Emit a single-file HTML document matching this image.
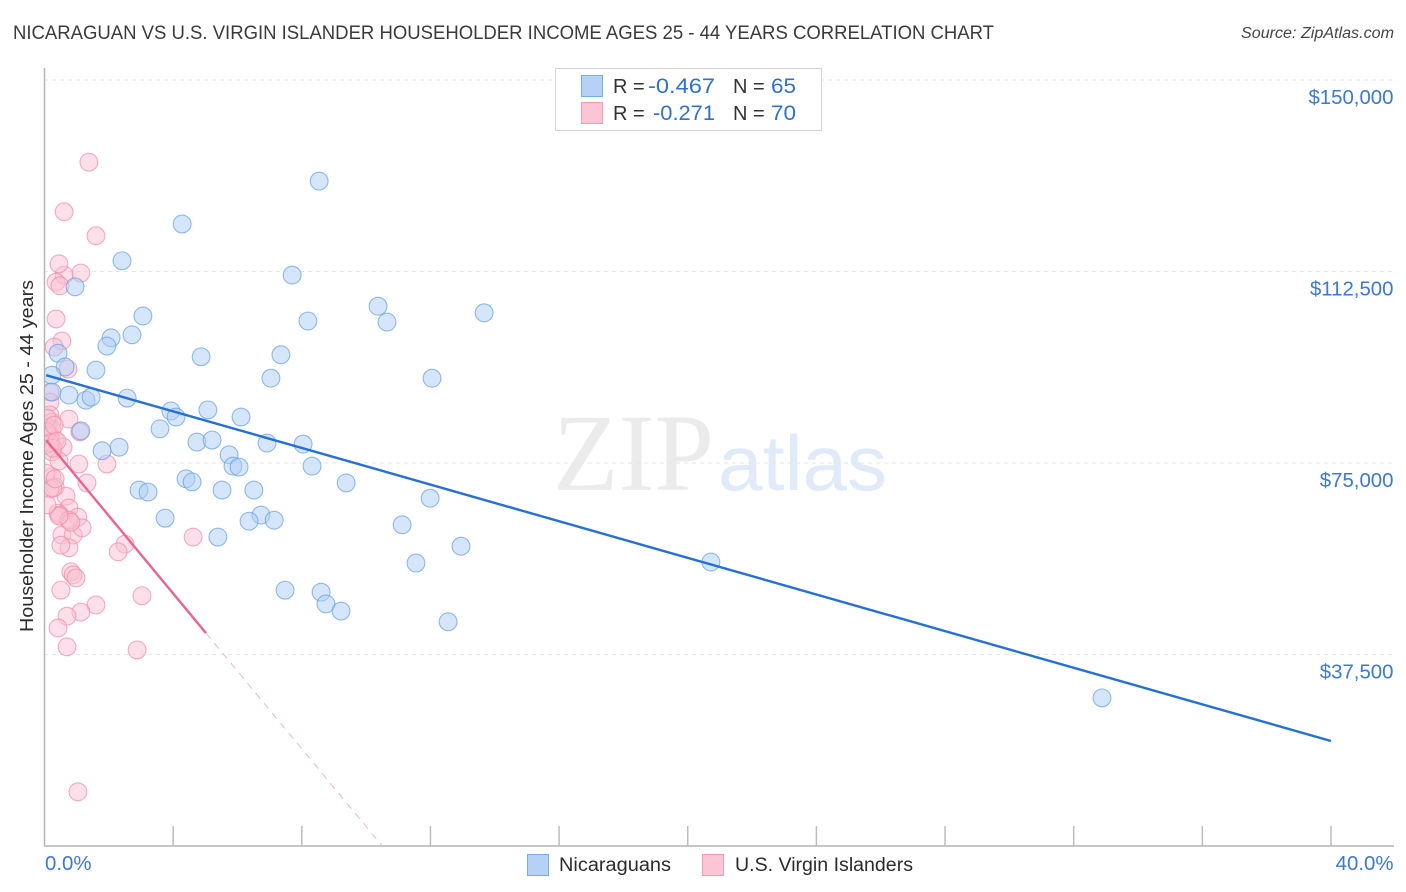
<!DOCTYPE html>
<html lang="en">
<head>
<meta charset="utf-8">
<title>Nicaraguan vs U.S. Virgin Islander Householder Income Correlation Chart</title>
<style>
  html, body { margin: 0; padding: 0; background: #fff; }
  #chart { display: block; position: absolute; left: 0; top: 0; font-family: "Liberation Sans", sans-serif; }
</style>
</head>
<body>
<svg id="chart" width="1406" height="892" viewBox="0 0 1406 892" xmlns="http://www.w3.org/2000/svg">
  <defs>
    <clipPath id="plot-clip"><rect x="45" y="60" width="1349" height="786"></rect></clipPath>
  </defs>
  <rect x="0" y="0" width="1406" height="892" fill="#ffffff"></rect>

  <text x="13" y="39" font-size="19" fill="#3a3a3a" textLength="981" lengthAdjust="spacingAndGlyphs">NICARAGUAN VS U.S. VIRGIN ISLANDER HOUSEHOLDER INCOME AGES 25 - 44 YEARS CORRELATION CHART</text>
  <text x="1394" y="38" font-size="15.5" font-style="italic" fill="#444" text-anchor="end" textLength="153" lengthAdjust="spacingAndGlyphs">Source: ZipAtlas.com</text>

  <g>
    <text x="553" y="490" font-family="'Liberation Serif', serif" font-size="110" fill="#ebebeb" textLength="161" lengthAdjust="spacingAndGlyphs">ZIP</text>
    <text x="718" y="490" font-size="78" fill="#e0eaf8" textLength="169" lengthAdjust="spacingAndGlyphs">atlas</text>
  </g>

  <g id="grid"></g>
  <g id="axes"></g>
  <g id="points-pink" clip-path="url(#plot-clip)"></g>
  <g id="points-blue" clip-path="url(#plot-clip)"></g>
  <g id="trends" clip-path="url(#plot-clip)"></g>
  <g id="tick-labels"></g>

  <text transform="translate(33 456) rotate(-90)" font-size="18.5" fill="#2b2b2b" text-anchor="middle" textLength="352" lengthAdjust="spacingAndGlyphs">Householder Income Ages 25 - 44 years</text>

  <g>
    <rect x="555.5" y="68.5" width="266" height="62" fill="#ffffff" stroke="#d4d4d4" stroke-width="1"></rect>
    <rect x="581.5" y="75.5" width="21" height="21" fill="#b5d1f6" stroke="#7aa9ea" stroke-width="1"></rect>
    <rect x="581.5" y="102.5" width="21" height="21" fill="#fcc5d6" stroke="#f39ab6" stroke-width="1"></rect>
    <text x="613" y="93" font-size="20" fill="#333">R =</text>
    <text x="648" y="93" font-size="21.5" fill="#2f70d2" textLength="67" lengthAdjust="spacingAndGlyphs">-0.467</text>
    <text x="733" y="93" font-size="20" fill="#333">N =</text>
    <text x="771" y="93" font-size="21.5" fill="#2f70d2" textLength="25" lengthAdjust="spacingAndGlyphs">65</text>
    <text x="613" y="120" font-size="20" fill="#333">R =</text>
    <text x="653" y="120" font-size="21.5" fill="#2f70d2" textLength="62" lengthAdjust="spacingAndGlyphs">-0.271</text>
    <text x="733" y="120" font-size="20" fill="#333">N =</text>
    <text x="771" y="120" font-size="21.5" fill="#2f70d2" textLength="25" lengthAdjust="spacingAndGlyphs">70</text>
  </g>

  <g>
    <rect x="527.5" y="854.5" width="21" height="21" fill="#b5d1f6" stroke="#7aa9ea" stroke-width="1"></rect>
    <text x="559" y="871" font-size="19" fill="#2b2b2b" textLength="112" lengthAdjust="spacingAndGlyphs">Nicaraguans</text>
    <rect x="702.5" y="854.5" width="21" height="21" fill="#fcc5d6" stroke="#f39ab6" stroke-width="1"></rect>
    <text x="735" y="871" font-size="19" fill="#2b2b2b" textLength="178" lengthAdjust="spacingAndGlyphs">U.S. Virgin Islanders</text>
  </g>
</svg>

<script>
const yTickValues = [37500, 75000, 112500, 150000];
const yTickLabels = ["$37,500", "$75,000", "$112,500", "$150,000"];
const xTickValues = [0, 4, 8, 12, 16, 20, 24, 28, 32, 36, 40];
const xEndLabels = ["0.0%", "40.0%"];

const nicaraguanPct = [8.54,4.28,2.41,7.70,0.95,3.06,8.19,10.37,10.65,13.67,2.07,2.72,1.94,0.42,0.64,4.87,7.35,1.60,7.04,12.05,0.23,0.23,0.76,1.29,1.45,2.57,3.93,4.09,5.08,6.11,3.59,1.13,4.74,5.21,6.92,8.04,2.32,1.79,5.74,5.86,6.05,8.32,4.40,4.59,9.38,2.94,3.22,5.52,6.51,11.99,3.75,6.73,6.36,7.14,11.12,5.39,12.95,11.55,20.72,7.48,8.60,8.75,9.22,12.55,32.88];
const nicaraguanIncome = [130200,121800,114600,111800,109500,103800,102800,105700,102600,104400,99500,100100,97900,96500,93800,95800,96200,93200,91600,91600,92200,88900,88300,87300,87900,87700,85200,84000,85400,84000,81700,81300,79100,79500,78900,78700,78100,77400,76600,74400,74200,74400,71900,71300,71100,69700,69300,69700,69700,68100,64200,64800,63600,63800,62900,60500,58700,55400,55600,50100,49700,47400,46000,43900,29000];

const islanderPct = [1.38,0.61,1.60,1.13,0.61,0.45,0.36,0.48,0.36,0.54,0.30,0.73,0.17,0.17,0.76,1.10,0.17,0.23,0.11,0.23,0.33,0.17,0.58,0.23,0.45,1.07,1.94,0.23,0.33,1.32,0.67,0.76,0.42,0.48,1.04,0.54,0.89,1.17,0.76,0.51,4.62,2.50,2.29,0.82,0.89,0.98,0.51,3.03,1.60,1.13,0.70,0.42,0.70,2.88,1.04,0.08,0.08,0.30,0.05,0.17,0.26,0.39,0.05,0.17,0.26,0.33,0.76,0.82,0.45,0.08];
const islanderIncome = [133900,124200,119500,112200,111800,114000,110400,109700,103200,98900,97700,93400,88900,86900,83600,81100,84400,83000,81900,81500,79500,80300,78100,77200,75400,74800,74800,72300,70300,71100,68500,66200,65200,64800,64400,60900,60900,62300,58400,58900,60500,59100,57600,53700,53100,52500,50100,49000,47200,45800,45000,42700,39000,38400,10600,83800,81100,82400,78500,78900,77900,79300,73000,69900,70100,71900,63800,63400,64600,66800];

const nicaraguanTrendPct = [0.05, 40];
const nicaraguanTrendIncome = [92200, 20560];
const islanderTrendPct = [0.05, 5.02];
const islanderTrendIncome = [79500, 41700];

const SVG_NS = "http://www.w3.org/2000/svg";
const xScale = function (pct) { return 44.5 + pct * 32.1625; };
const yScale = function (income) { return 846 - income * (191.5 / 37500); };

const gridLayer = document.getElementById("grid");
const axesLayer = document.getElementById("axes");
const labelLayer = document.getElementById("tick-labels");
const blueLayer = document.getElementById("points-blue");
const pinkLayer = document.getElementById("points-pink");
const trendLayer = document.getElementById("trends");

function makeLine(x1, y1, x2, y2, stroke, width, dash) {
  const line = document.createElementNS(SVG_NS, "line");
  line.setAttribute("x1", x1);
  line.setAttribute("y1", y1);
  line.setAttribute("x2", x2);
  line.setAttribute("y2", y2);
  line.setAttribute("stroke", stroke);
  line.setAttribute("stroke-width", width);
  if (dash) line.setAttribute("stroke-dasharray", dash);
  return line;
}

function makeTickText(x, y, anchor, content) {
  const text = document.createElementNS(SVG_NS, "text");
  text.setAttribute("x", x);
  text.setAttribute("y", y);
  text.setAttribute("text-anchor", anchor);
  text.setAttribute("font-size", "20.4");
  text.setAttribute("fill", "#3b78d8");
  text.textContent = content;
  return text;
}

yTickValues.forEach(function (value, i) {
  const y = yScale(value);
  const grid = makeLine(44, y, 1394, y, "#e6e6e6", 1, "4 4");
  
  
  gridLayer.appendChild(grid);

  const label = makeTickText(1393.5, y + 24, "end", yTickLabels[i]);
  
  
  labelLayer.appendChild(label);
});

const yAxisLine = makeLine(44.5, 68, 44.5, 846.5, "#b4b4b4", 1.5);


axesLayer.appendChild(yAxisLine);

const xAxisLine = makeLine(44, 846, 1394, 846, "#b4b4b4", 1.5);


axesLayer.appendChild(xAxisLine);

xTickValues.forEach(function (value) {
  if (value === 0) return;
  const x = xScale(value);
  const tick = makeLine(x, 826, x, 846, "#bcbcbc", 1.5);
  
  
  axesLayer.appendChild(tick);
});

const xStartLabel = makeTickText(45, 870, "start", xEndLabels[0]);


labelLayer.appendChild(xStartLabel);

const xEndLabel = makeTickText(1393.5, 870, "end", xEndLabels[1]);


labelLayer.appendChild(xEndLabel);

function makePoint(pct, income, fill, stroke) {
  const circle = document.createElementNS(SVG_NS, "circle");
  circle.setAttribute("cx", xScale(pct));
  circle.setAttribute("cy", yScale(income));
  circle.setAttribute("r", 8.9);
  circle.setAttribute("fill", fill);
  circle.setAttribute("fill-opacity", "0.5");
  circle.setAttribute("stroke", stroke);
  circle.setAttribute("stroke-opacity", "0.7");
  circle.setAttribute("stroke-width", "1.1");
  return circle;
}

islanderPct.forEach(function (pct, i) {
  const point = makePoint(pct, islanderIncome[i], "#fabfd1", "#f18aa9");
  
  
  pinkLayer.appendChild(point);
});

nicaraguanPct.forEach(function (pct, i) {
  const point = makePoint(pct, nicaraguanIncome[i], "#aecef5", "#649ee7");
  
  
  blueLayer.appendChild(point);
});

const blueTrend = makeLine(
  xScale(nicaraguanTrendPct[0]), yScale(nicaraguanTrendIncome[0]),
  xScale(nicaraguanTrendPct[1]), yScale(nicaraguanTrendIncome[1]),
  "#2470d8", 2.4);


trendLayer.appendChild(blueTrend);

const pinkTrend = makeLine(
  xScale(islanderTrendPct[0]), yScale(islanderTrendIncome[0]),
  xScale(islanderTrendPct[1]), yScale(islanderTrendIncome[1]),
  "#ea6490", 2.4);


trendLayer.appendChild(pinkTrend);

const pinkSlope = (islanderTrendIncome[1] - islanderTrendIncome[0]) / (islanderTrendPct[1] - islanderTrendPct[0]);
const pinkZeroPct = islanderTrendPct[1] - islanderTrendIncome[1] / pinkSlope;
const pinkExtension = makeLine(
  xScale(islanderTrendPct[1]), yScale(islanderTrendIncome[1]),
  xScale(pinkZeroPct), yScale(0),
  "#eeb4c6", 1, "7 6");


trendLayer.appendChild(pinkExtension);
</script>
</body>
</html>
